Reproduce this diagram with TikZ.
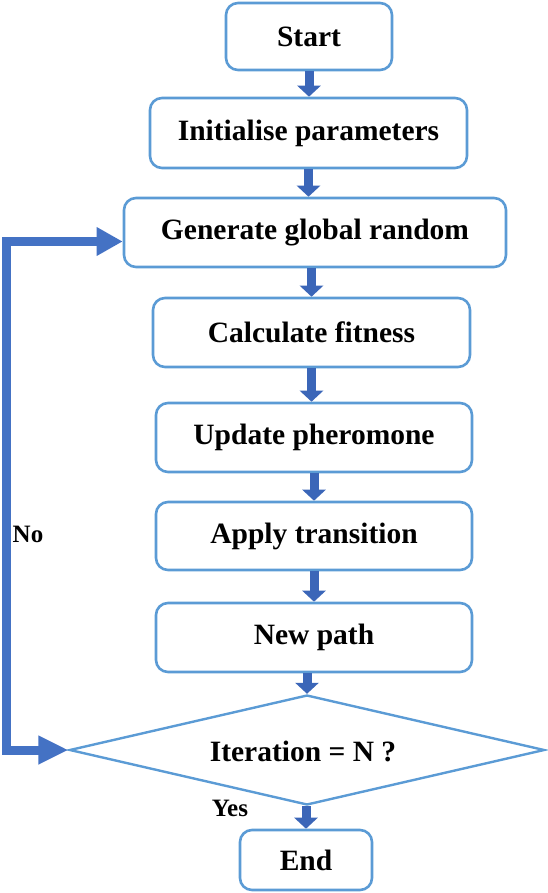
\documentclass[tikz,border=0pt]{standalone}
\usepackage{fontspec}
\setmainfont{Liberation Serif}
\usetikzlibrary{arrows.meta,shapes.geometric,calc}
\definecolor{boxline}{HTML}{5B9BD5}
\definecolor{arrowblue}{HTML}{3B66B8}
\definecolor{fbblue}{HTML}{4472C4}
\begin{document}
\begin{tikzpicture}[x=1pt,y=-1pt,
  box/.style={draw=boxline,line width=2.6pt,rounded corners=12pt,fill=white,
    inner sep=0pt,font=\fontsize{29.5}{33}\selectfont\bfseries},
  dia/.style={draw=boxline,line width=2.4pt,shape=diamond,inner sep=0pt},
  blockarrow/.style={draw=arrowblue,line width=9pt,
    -{Triangle[width=23pt,length=11pt]}},
  fb/.style={draw=fbblue,line width=9pt,
    {Triangle[width=27pt,length=30pt]}-{Triangle[width=27pt,length=26pt]}},
  lbl/.style={font=\fontsize{25}{29}\selectfont\bfseries,inner sep=0pt}]
\useasboundingbox (0,0) rectangle (547,893);
\node[box,minimum width=166pt,minimum height=67pt] (start) at (309,36.5) {Start};
\node[box,minimum width=317pt,minimum height=70pt] (init) at (308.5,133) {Initialise parameters};
\node[box,minimum width=382pt,minimum height=69pt] (gen) at (315,232.5) {Generate global random};
\node[box,minimum width=317pt,minimum height=69pt] (calc) at (311.5,332.5) {Calculate fitness};
\node[box,minimum width=316pt,minimum height=69pt] (upd) at (314,437.5) {Update pheromone};
\node[box,minimum width=316pt,minimum height=68pt] (app) at (314,536) {Apply transition};
\node[box,minimum width=316pt,minimum height=69pt] (newp) at (314,637.5) {New path};
\node[dia,minimum width=475pt,minimum height=110pt] (iter) at (307,750) {};
\node[font=\fontsize{29.5}{33}\selectfont\bfseries,inner sep=0pt] (itertext) at (303,751) {Iteration = N ?};
\node[box,minimum width=132pt,minimum height=60pt] (end) at (306,860) {End};
\node[lbl] (no) at (28,534) {No};
\node[lbl] (yes) at (230,808) {Yes};
\draw[blockarrow] (start.south) -- (start.south |- init.north);
\draw[blockarrow] (init.south) -- (init.south |- gen.north);
\draw[blockarrow] (gen.south -| calc.north) -- (calc.north);
\draw[blockarrow] (calc.south) -- (calc.south |- upd.north);
\draw[blockarrow] (upd.south -| app.north) -- (app.north);
\draw[blockarrow] (app.south -| newp.north) -- (newp.north);
\draw[blockarrow] (newp.south -| iter.north) -- (iter.north);
\draw[blockarrow] (iter.south -| end.north) -- (end.north);
\coordinate (fbend) at ($(gen.west)+(0,9)$);
\draw[fb] (iter.west) -- ++(-62,0) |- (fbend);
\end{tikzpicture}
\end{document}
